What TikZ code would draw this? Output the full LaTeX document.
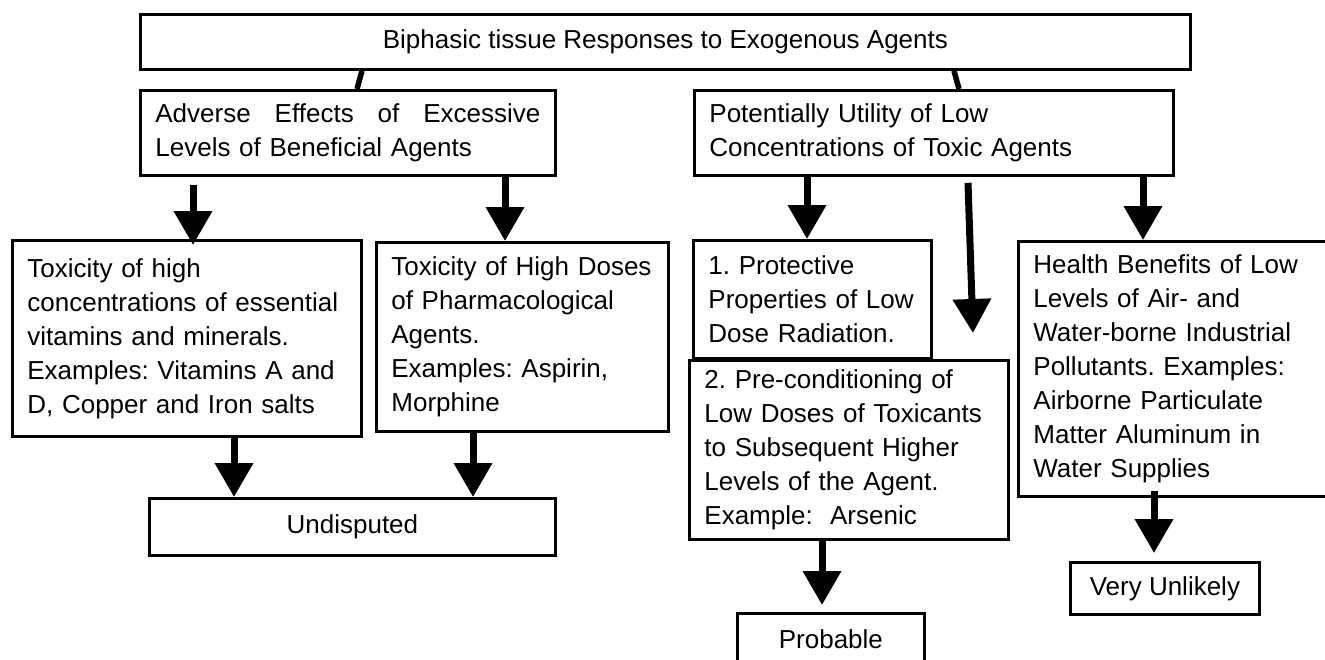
\documentclass[tikz,border=0pt]{standalone}
\usepackage{fontspec}
\setmainfont{Liberation Sans}
\usetikzlibrary{arrows.meta,positioning,calc}
\frenchspacing

\begin{document}
\begin{tikzpicture}[x=1pt,y=-1pt, font=\fontsize{26}{34}\selectfont,
  tb/.style={draw,line width=2.8pt,fill=white,anchor=north west,align=left,inner xsep=15pt,inner ysep=0pt},
  cb/.style={draw,line width=2.8pt,fill=white,anchor=north west,align=center,inner sep=0pt},
  arr/.style={line width=7pt,-{Triangle[width=37pt,length=34pt]}}, lnk/.style={line width=5.5pt}]
  \useasboundingbox (0,0) rectangle (1325,659);
  \node[cb,minimum width=1050pt,minimum height=55pt](top) at (139,13){Biphasic tissue Responses to Exogenous Agents};
  \node[tb,text width=385pt,minimum height=85pt](adv) at (139,89){Adverse\hfill Effects\hfill of\hfill Excessive\\Levels of Beneficial Agents};
  \node[tb,text width=449pt,minimum height=85pt](util) at (693,89){Potentially Utility of Low\\Concentrations of Toxic Agents};
  \node[tb,text width=319pt,minimum height=196pt](tox1) at (11,239){Toxicity of high\\concentrations of essential\\vitamins and minerals.\\Examples: Vitamins A and\\D, Copper and Iron salts};
  \node[tb,text width=262pt,minimum height=189pt](tox2) at (375,241){Toxicity of High Doses\\of Pharmacological\\Agents.\\Examples: Aspirin,\\Morphine};
  \node[tb,text width=208pt,minimum height=118pt](prot) at (692,239){1. Protective\\Properties of Low\\Dose Radiation.};
  \node[tb,text width=289pt,minimum height=179pt](pre) at (688,359){2. Pre-conditioning of\\Low Doses of Toxicants\\to Subsequent Higher\\Levels of the Agent.\\Example:~ Arsenic};
  \node[tb,text width=293pt,minimum height=255pt](hlth) at (1017,240){Health Benefits of Low\\Levels of Air- and\\Water-borne Industrial\\Pollutants. Examples:\\Airborne Particulate\\Matter Aluminum in\\Water Supplies};
  \node[cb,minimum width=406pt,minimum height=57pt](und) at (148,497){Undisputed};
  \node[cb,minimum width=187pt,minimum height=52pt](prob) at (736,612){Probable};
  \node[cb,minimum width=189pt,minimum height=52pt](unl) at (1069,561){Very Unlikely};
  \coordinate(gap) at (973,333);
  % links from the top box
  \draw[lnk]([xshift=223pt]top.south west)--([xshift=218pt]adv.north west);
  \draw[lnk]([xshift=815pt]top.south west)--([xshift=266pt]util.north west);
  % arrows
  \draw[arr]([xshift=54pt,yshift=-8pt]adv.south west)--([xshift=182pt,yshift=-6pt]tox1.north west);
  \draw[arr]([xshift=366pt]adv.south west)--([xshift=130pt]tox2.north west);
  \draw[arr]([xshift=114pt]util.south west)--([xshift=115pt]prot.north west);
  \draw[arr]([xshift=275pt,yshift=-6pt]util.south west)--(gap);
  \draw[arr]([xshift=450pt]util.south west)--([xshift=126pt]hlth.north west);
  \draw[arr]([xshift=223pt]tox1.south west)--([xshift=86pt]und.north west);
  \draw[arr]([xshift=98pt]tox2.south west)--([xshift=325pt]und.north west);
  \draw[arr]([xshift=134pt]pre.south west)--([xshift=86pt,yshift=7pt]prob.north west);
  \draw[arr]([xshift=137pt,yshift=7pt]hlth.south west)--([xshift=85pt,yshift=8pt]unl.north west);
\end{tikzpicture}
\end{document}
